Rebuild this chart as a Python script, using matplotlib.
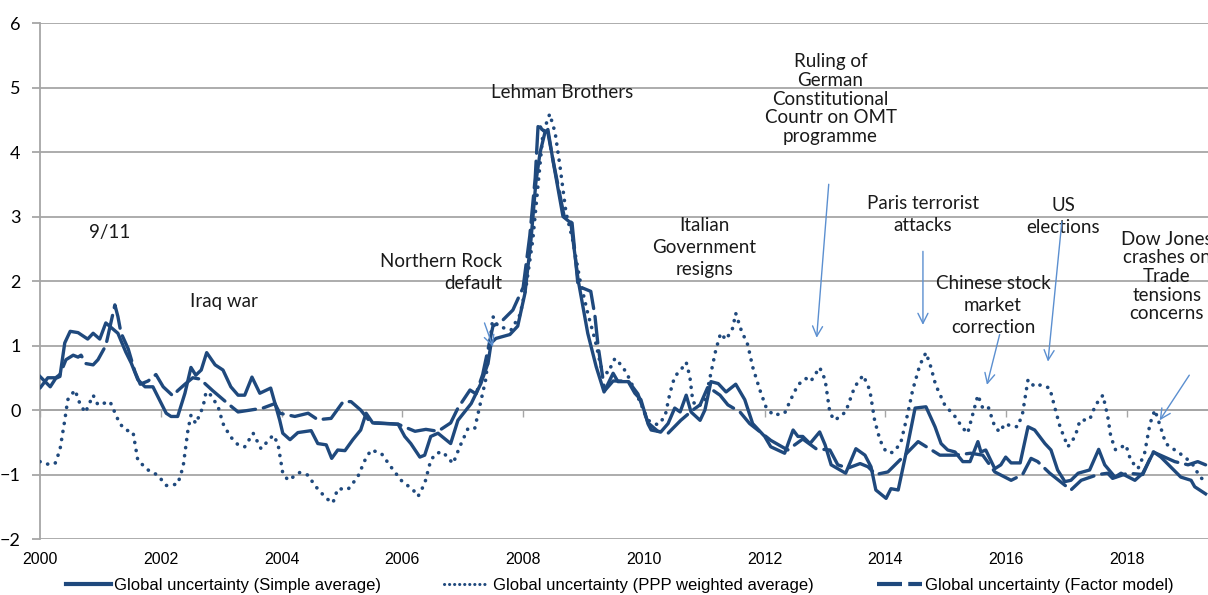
""" Global uncertainty indices, 2000-2019 """

import matplotlib
matplotlib.use("Agg")
import matplotlib.pyplot as plt
from matplotlib.lines import Line2D

LINE_COLOR  = "#1F497D"
ARROW_COLOR = "#5B8FD0"
GRID_COLOR  = "#A6A6A6"

# simple average
simple_x = [2000.00, 2000.17, 2000.26, 2000.33, 2000.41, 2000.50, 2000.63, 2000.79, 2000.88, 2000.99,
            2001.09, 2001.29, 2001.42, 2001.51, 2001.62, 2001.74, 2001.87, 2002.09, 2002.17, 2002.28,
            2002.40, 2002.50, 2002.58, 2002.67, 2002.76, 2002.90, 2003.03, 2003.16, 2003.28, 2003.39,
            2003.51, 2003.64, 2003.82, 2003.97, 2004.02, 2004.14, 2004.27, 2004.49, 2004.60, 2004.74,
            2004.83, 2004.93, 2005.05, 2005.18, 2005.31, 2005.40, 2005.51, 2005.60, 2005.93, 2006.04,
            2006.14, 2006.29, 2006.37, 2006.47, 2006.59, 2006.80, 2006.92, 2007.14, 2007.30, 2007.42,
            2007.47, 2007.55, 2007.78, 2007.91, 2008.03, 2008.13, 2008.21, 2008.28, 2008.36, 2008.41,
            2008.49, 2008.66, 2008.79, 2008.91, 2009.07, 2009.21, 2009.34, 2009.49, 2009.57, 2009.74,
            2009.85, 2009.95, 2010.07, 2010.12, 2010.28, 2010.40, 2010.51, 2010.60, 2010.70, 2010.78,
            2010.93, 2011.01, 2011.11, 2011.23, 2011.36, 2011.52, 2011.67, 2011.80, 2012.00, 2012.10,
            2012.33, 2012.47, 2012.55, 2012.63, 2012.75, 2012.91, 2013.00, 2013.10, 2013.34, 2013.51,
            2013.66, 2013.76, 2013.84, 2014.01, 2014.09, 2014.21, 2014.34, 2014.49, 2014.67, 2014.82,
            2014.92, 2015.03, 2015.15, 2015.28, 2015.40, 2015.53, 2015.58, 2015.66, 2015.81, 2015.91,
            2015.99, 2016.08, 2016.23, 2016.36, 2016.47, 2016.64, 2016.74, 2016.85, 2016.97, 2017.07,
            2017.19, 2017.38, 2017.53, 2017.63, 2017.80, 2017.90, 2018.13, 2018.26, 2018.44, 2018.56,
            2018.72, 2018.89, 2019.06, 2019.12, 2019.30]
simple_y = [0.52, 0.36, 0.49, 0.52, 1.04, 1.22, 1.20, 1.10, 1.19, 1.10,
            1.35, 1.19, 0.90, 0.73, 0.47, 0.36, 0.36, -0.05, -0.10, -0.10,
            0.26, 0.66, 0.54, 0.62, 0.89, 0.70, 0.62, 0.36, 0.23, 0.23,
            0.51, 0.26, 0.34, -0.16, -0.36, -0.46, -0.35, -0.32, -0.52, -0.54,
            -0.75, -0.62, -0.63, -0.46, -0.31, -0.05, -0.20, -0.20, -0.22, -0.41,
            -0.52, -0.73, -0.70, -0.41, -0.36, -0.52, -0.16, 0.10, 0.41, 0.73,
            1.04, 1.11, 1.17, 1.30, 1.81, 2.64, 3.52, 3.99, 4.30, 4.35,
            3.89, 3.00, 2.90, 2.02, 1.19, 0.67, 0.28, 0.57, 0.44, 0.44,
            0.26, 0.16, -0.22, -0.31, -0.34, -0.21, 0.03, -0.03, 0.23, -0.03,
            -0.16, 0.00, 0.44, 0.41, 0.28, 0.40, 0.16, -0.21, -0.41, -0.57,
            -0.67, -0.31, -0.41, -0.41, -0.52, -0.34, -0.54, -0.85, -0.98, -0.60,
            -0.70, -0.88, -1.24, -1.37, -1.22, -1.24, -0.67, 0.03, 0.05, -0.26,
            -0.52, -0.62, -0.65, -0.80, -0.80, -0.49, -0.65, -0.62, -0.91, -0.85,
            -0.73, -0.82, -0.82, -0.26, -0.31, -0.52, -0.62, -0.93, -1.11, -1.09,
            -0.98, -0.93, -0.61, -0.85, -1.04, -0.98, -1.09, -0.98, -0.65, -0.73,
            -0.88, -1.04, -1.09, -1.19, -1.30]

# PPP weighted average
ppp_x = [2000.00, 2000.10, 2000.25, 2000.33, 2000.41, 2000.46, 2000.58, 2000.66, 2000.75, 2000.88,
         2000.96, 2001.16, 2001.32, 2001.42, 2001.54, 2001.62, 2001.79, 2001.95, 2002.09, 2002.28,
         2002.37, 2002.45, 2002.50, 2002.58, 2002.70, 2002.75, 2002.83, 2002.95, 2003.03, 2003.15,
         2003.28, 2003.39, 2003.53, 2003.66, 2003.86, 2003.94, 2004.02, 2004.11, 2004.30, 2004.44,
         2004.55, 2004.74, 2004.85, 2004.93, 2005.10, 2005.26, 2005.38, 2005.48, 2005.65, 2005.81,
         2005.98, 2006.18, 2006.26, 2006.37, 2006.47, 2006.56, 2006.67, 2006.84, 2006.95, 2007.09,
         2007.20, 2007.28, 2007.38, 2007.50, 2007.58, 2007.80, 2007.95, 2008.05, 2008.16, 2008.25,
         2008.33, 2008.44, 2008.53, 2008.61, 2008.71, 2008.82, 2008.94, 2009.07, 2009.19, 2009.29,
         2009.40, 2009.52, 2009.65, 2009.74, 2009.90, 2010.07, 2010.23, 2010.35, 2010.43, 2010.51,
         2010.61, 2010.70, 2010.76, 2010.81, 2010.89, 2011.01, 2011.11, 2011.19, 2011.27, 2011.36,
         2011.47, 2011.52, 2011.61, 2011.72, 2011.80, 2011.92, 2012.02, 2012.14, 2012.33, 2012.43,
         2012.55, 2012.68, 2012.76, 2012.91, 2013.00, 2013.08, 2013.16, 2013.34, 2013.49, 2013.63,
         2013.74, 2013.82, 2013.91, 2014.01, 2014.12, 2014.25, 2014.37, 2014.45, 2014.57, 2014.67,
         2014.75, 2014.83, 2014.98, 2015.15, 2015.28, 2015.36, 2015.45, 2015.53, 2015.61, 2015.70,
         2015.81, 2015.89, 2015.98, 2016.08, 2016.19, 2016.27, 2016.36, 2016.47, 2016.57, 2016.72,
         2016.80, 2016.89, 2017.02, 2017.14, 2017.22, 2017.38, 2017.48, 2017.60, 2017.68, 2017.73,
         2017.81, 2017.98, 2018.06, 2018.18, 2018.29, 2018.38, 2018.46, 2018.56, 2018.64, 2018.79,
         2018.96, 2019.09, 2019.21, 2019.30]
ppp_y = [-0.80, -0.84, -0.83, -0.62, -0.16, 0.16, 0.31, 0.10, -0.04, 0.23,
         0.08, 0.13, -0.21, -0.31, -0.34, -0.78, -0.93, -1.01, -1.17, -1.15,
         -0.88, -0.31, -0.08, -0.21, 0.05, 0.28, 0.23, 0.05, -0.21, -0.41,
         -0.54, -0.57, -0.36, -0.60, -0.39, -0.52, -0.98, -1.09, -0.97, -1.01,
         -1.17, -1.37, -1.44, -1.22, -1.23, -1.04, -0.78, -0.62, -0.67, -0.88,
         -1.09, -1.24, -1.34, -1.14, -0.78, -0.67, -0.65, -0.83, -0.57, -0.28,
         -0.28, 0.05, 0.47, 1.45, 1.30, 1.24, 1.48, 1.92, 2.64, 3.52,
         4.30, 4.59, 4.30, 3.78, 3.06, 2.64, 2.02, 1.50, 1.09, 0.67,
         0.57, 0.80, 0.67, 0.52, 0.20, -0.16, -0.23, -0.10, 0.26, 0.52,
         0.62, 0.74, 0.52, 0.13, 0.05, 0.13, 0.57, 0.93, 1.19, 1.09,
         1.27, 1.50, 1.24, 1.01, 0.67, 0.31, 0.05, -0.08, -0.05, 0.16,
         0.39, 0.49, 0.44, 0.66, 0.47, -0.05, -0.16, -0.03, 0.36, 0.54,
         0.31, -0.16, -0.47, -0.65, -0.66, -0.52, -0.05, 0.31, 0.70, 0.89,
         0.67, 0.39, 0.08, -0.10, -0.28, -0.36, -0.05, 0.23, 0.03, 0.05,
         -0.26, -0.34, -0.21, -0.25, -0.26, -0.05, 0.47, 0.36, 0.39, 0.34,
         0.05, -0.26, -0.57, -0.41, -0.16, -0.15, 0.08, 0.23, -0.10, -0.41,
         -0.62, -0.54, -0.78, -0.91, -0.67, -0.21, 0.00, -0.28, -0.52, -0.62,
         -0.73, -0.85, -1.04, -1.11]

# factor model
factor_x = [2000.00, 2000.13, 2000.26, 2000.33, 2000.43, 2000.55, 2000.63, 2000.68, 2000.76, 2000.88,
            2000.96, 2001.09, 2001.24, 2001.29, 2001.34, 2001.46, 2001.57, 2001.66, 2001.79, 2001.92,
            2002.04, 2002.20, 2002.28, 2002.40, 2002.53, 2002.65, 2002.86, 2003.11, 2003.28, 2003.49,
            2003.69, 2003.89, 2003.97, 2004.22, 2004.44, 2004.60, 2004.82, 2005.02, 2005.15, 2005.31,
            2005.48, 2005.93, 2006.21, 2006.39, 2006.59, 2006.80, 2006.92, 2007.12, 2007.22, 2007.33,
            2007.50, 2007.67, 2007.83, 2008.00, 2008.11, 2008.20, 2008.25, 2008.31, 2008.41, 2008.51,
            2008.68, 2008.81, 2008.91, 2009.12, 2009.19, 2009.24, 2009.35, 2009.49, 2009.74, 2009.90,
            2010.07, 2010.23, 2010.40, 2010.61, 2010.81, 2010.93, 2011.06, 2011.26, 2011.39, 2011.59,
            2011.75, 2012.10, 2012.38, 2012.63, 2012.85, 2013.08, 2013.21, 2013.38, 2013.58, 2013.71,
            2013.84, 2014.04, 2014.32, 2014.54, 2014.90, 2015.15, 2015.41, 2015.61, 2015.81, 2016.08,
            2016.27, 2016.41, 2016.52, 2016.72, 2017.07, 2017.24, 2017.52, 2017.68, 2017.76, 2018.01,
            2018.26, 2018.43, 2018.79, 2019.01, 2019.17, 2019.30]
factor_y = [0.34, 0.50, 0.50, 0.55, 0.78, 0.85, 0.82, 0.85, 0.72, 0.70,
            0.78, 1.00, 1.63, 1.45, 1.20, 0.95, 0.60, 0.40, 0.45, 0.55,
            0.36, 0.22, 0.30, 0.40, 0.50, 0.48, 0.30, 0.10, -0.03, 0.00,
            0.03, 0.10, -0.05, -0.10, -0.05, -0.15, -0.13, 0.13, 0.13, 0.00,
            -0.20, -0.22, -0.33, -0.30, -0.33, -0.20, 0.03, 0.31, 0.25, 0.55,
            1.30, 1.40, 1.55, 1.90, 2.70, 3.60, 4.45, 4.35, 4.30, 3.80,
            3.00, 2.90, 1.92, 1.84, 1.45, 1.00, 0.30, 0.45, 0.45, 0.25,
            -0.20, -0.33, -0.36, -0.16, 0.00, 0.08, 0.36, 0.23, 0.08, -0.03,
            -0.21, -0.47, -0.62, -0.45, -0.60, -0.62, -0.85, -0.90, -0.83, -0.88,
            -1.00, -0.96, -0.70, -0.49, -0.70, -0.70, -0.67, -0.70, -0.96, -1.09,
            -1.00, -0.75, -0.80, -0.98, -1.24, -1.09, -1.00, -0.98, -1.06, -0.98,
            -1.00, -0.65, -0.80, -0.85, -0.80, -0.85]

# event labels: text, (x, y) of the text, alignment, line spacing, arrow (start, end) or None
events = [
    ("9/11", (2001.15, 2.75), "center", 1.4, None),
    ("Iraq war", (2003.05, 1.68), "center", 1.4, None),
    ("Northern Rock\ndefault", (2007.65, 2.13), "right", 1.35, ((2007.36, 1.35), (2007.50, 0.98))),
    ("Lehman Brothers", (2008.65, 4.93), "center", 1.4, None),
    ("Italian\nGovernment\nresigns", (2011.00, 2.52), "center", 1.35, None),
    ("Ruling of\nGerman\nConstitutional\nCountr on OMT\nprogramme", (2013.09, 4.82), "center", 1.12,
     ((2013.06, 3.50), (2012.86, 1.12))),
    ("Paris terrorist\nattacks", (2014.62, 3.03), "center", 1.38, ((2014.62, 2.46), (2014.62, 1.32))),
    ("US\nelections", (2016.94, 3.00), "center", 1.38, ((2016.92, 2.92), (2016.69, 0.75))),
    ("Chinese stock\nmarket\ncorrection", (2015.78, 1.62), "center", 1.35,
     ((2015.89, 1.17), (2015.68, 0.39))),
    ("Dow Jones\ncrashes on\nTrade\ntensions\nconcerns", (2018.66, 2.07), "center", 1.12,
     ((2019.03, 0.54), (2018.54, -0.16))),
]

years = list(range(2000, 2019, 2))


def plot_uncertainty():
    """ Draw the three global uncertainty measures """

    fig = plt.figure(figsize=(12.08, 5.95), dpi=100)
    ax  = fig.add_axes([0.0331, 0.0941, 0.9669, 0.8672])

    ax.plot(simple_x, simple_y, color=LINE_COLOR, lw=2.4, solid_joinstyle="round", zorder=3)
    ax.plot(ppp_x, ppp_y, color=LINE_COLOR, lw=2.6, linestyle=(0, (0.05, 2.2)),
            dash_capstyle="round", zorder=3)
    ax.plot(factor_x, factor_y, color=LINE_COLOR, lw=2.4, linestyle=(0, (8, 2.4)),
            dash_capstyle="round", zorder=3)

    ax.set_xlim(2000, 2019.34)
    ax.set_ylim(-2, 6)
    ax.set_yticks(range(-2, 7))
    ax.yaxis.grid(True, color=GRID_COLOR, lw=1.3)
    ax.set_axisbelow(True)

    for side in ("top", "right"):
        ax.spines[side].set_visible(False)
    ax.spines["left"].set_color(GRID_COLOR)
    ax.spines["left"].set_linewidth(1.3)
    ax.tick_params(axis="y", length=6, width=1.3, color=GRID_COLOR, labelsize=13, pad=8)
    for lab in ax.get_yticklabels():
        lab.set_fontfamily(["Lato", "DejaVu Sans"])

    # category axis crosses at zero, labels sit at the bottom
    ax.spines["bottom"].set_position(("data", 0))
    ax.spines["bottom"].set_color(GRID_COLOR)
    ax.spines["bottom"].set_linewidth(1.3)
    ax.set_xticks(years)
    ax.tick_params(axis="x", length=5, width=1.0, color=GRID_COLOR, labelbottom=False)
    sec = ax.secondary_xaxis(0)
    sec.set_xticks(years)
    sec.set_xticklabels([str(y) for y in years], family=["Liberation Sans", "DejaVu Sans"],
                        fontsize=11.5)
    sec.tick_params(length=0, pad=9)
    sec.spines["bottom"].set_visible(False)

    for text, (tx, ty), align, spacing, arrow in events:
        ax.text(tx, ty, text, ha=align, va="center", multialignment=align, fontsize=13.5,
                color="#1a1a1a", family=["Lato", "DejaVu Sans"], linespacing=spacing,
                zorder=4, clip_on=False)
        if arrow is not None:
            ax.annotate("", xy=arrow[1], xytext=arrow[0],
                        arrowprops=dict(arrowstyle="->", color=ARROW_COLOR, lw=1.0,
                                        mutation_scale=18, shrinkA=0, shrinkB=0), zorder=4)

    handles = [
        Line2D([], [], color=LINE_COLOR, lw=3),
        Line2D([], [], color=LINE_COLOR, lw=2.2, linestyle=(0, (0.05, 1.6)), dash_capstyle="round"),
        Line2D([], [], color=LINE_COLOR, lw=3, linestyle=(0, (6, 1.5))),
    ]
    labels = ["Global uncertainty (Simple average)",
              "Global uncertainty (PPP weighted average)",
              "Global uncertainty (Factor model)"]
    fig.legend(handles, labels, loc="lower center", bbox_to_anchor=(0.513, -0.022), ncol=3,
               frameon=False, handlelength=2.7, handletextpad=0.2, columnspacing=3.8,
               prop={"family": ["Liberation Sans", "DejaVu Sans"], "size": 12})

    fig.savefig("out.png", dpi=100)


if __name__ == "__main__":
    plot_uncertainty()
